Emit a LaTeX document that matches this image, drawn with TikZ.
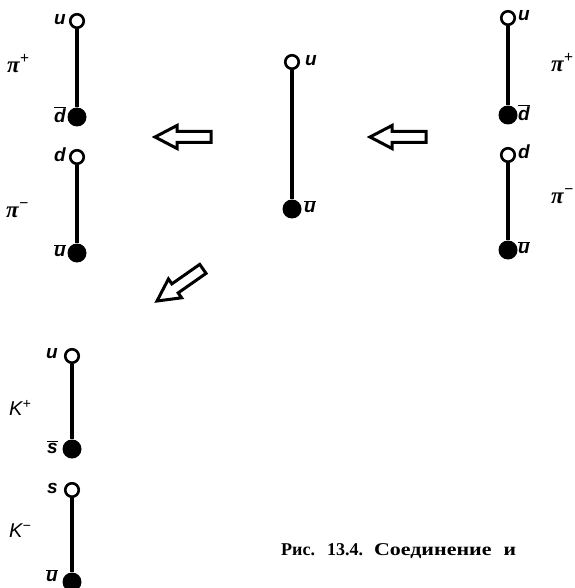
\documentclass[tikz,border=0pt]{standalone}
\usepackage{fontspec}
\setmainfont{Liberation Serif}
\newfontfamily\lab{Liberation Sans}
\newfontfamily\grk{Liberation Serif}
\begin{document}
\begin{tikzpicture}[x=1pt,y=-1pt,
  opq/.style={circle,draw,line width=2.6pt,fill=white,minimum size=13.5pt,inner sep=0pt},
  fq/.style={circle,fill=black,minimum size=19pt,inner sep=0pt},
  bond/.style={line width=3.2pt},
  lbl/.style={font=\fontsize{19}{22}\selectfont\lab\bfseries\itshape,inner sep=1pt},
  plbl/.style={font=\fontsize{23}{26}\selectfont\grk\bfseries\itshape,inner sep=0pt},
  klbl/.style={font=\fontsize{20}{24}\selectfont\lab\itshape,inner sep=0pt},
  harrow/.style={line width=3pt,fill=white,line join=miter},
  hollowarrow/.pic={\draw[harrow] (0,0) -- (22,11.5) -- (22,5.5) -- (56,5.5) -- (56,-5.5) -- (22,-5.5) -- (22,-11.5) -- cycle;}]
\useasboundingbox (0,0) rectangle (574,588);

% left column: pi+ and pi-
\node[opq] (lu) at (77,21) {};
\node[fq] (ldb) at (77,117) {};
\node[opq] (ld) at (77,157) {};
\node[fq] (lub) at (77,253) {};
\draw[bond] (lu) -- (ldb);
\draw[bond] (ld) -- (lub);
\node[lbl,anchor=east] (tlu) at (67,20) {u};
\node[lbl,anchor=east] (tldb) at (67,115) {$\overline{\mbox{\lab\bfseries\itshape d}}$};
\node[lbl,anchor=east] (tld) at (67,155) {d};
\node[lbl,anchor=east] (tlub) at (67,251) {$\overline{\mbox{\lab\bfseries\itshape u}}$};
\node[plbl,anchor=west] (plp) at (7,64) {π\textsuperscript{+}};
\node[plbl,anchor=west] (plm) at (6,210) {π\textsuperscript{−}};

% middle
\node[opq] (mu) at (292,62) {};
\node[fq] (mub) at (292,209) {};
\draw[bond] (mu) -- (mub);
\node[lbl,anchor=west] (tmu) at (304,61) {u};
\node[lbl,anchor=west] (tmub) at (303,207) {$\overline{\mbox{\lab\bfseries\itshape u}}$};

% right column
\node[opq] (ru) at (508,18) {};
\node[fq] (rdb) at (508,115) {};
\node[opq] (rd) at (508,155) {};
\node[fq] (rub) at (508,250) {};
\draw[bond] (ru) -- (rdb);
\draw[bond] (rd) -- (rub);
\node[lbl,anchor=west] (tru) at (517,16) {u};
\node[lbl,anchor=west] (trdb) at (517,113) {$\overline{\mbox{\lab\bfseries\itshape d}}$};
\node[lbl,anchor=west] (trd) at (517,152) {d};
\node[lbl,anchor=west] (trub) at (517,248) {$\overline{\mbox{\lab\bfseries\itshape u}}$};
\node[plbl,anchor=west] (prp) at (551,63) {π\textsuperscript{+}};
\node[plbl,anchor=west] (prm) at (551,196) {π\textsuperscript{−}};

% K column
\node[opq] (ku) at (72,356) {};
\node[fq] (ksb) at (72,449) {};
\node[opq] (ks) at (72,490) {};
\node[fq] (kub) at (72,582) {};
\draw[bond] (ku) -- (ksb);
\draw[bond] (ks) -- (kub);
\node[lbl,anchor=east] (tku) at (59,354) {u};
\node[lbl,anchor=east] (tksb) at (59,447) {$\overline{\mbox{\lab\bfseries\itshape s}}$};
\node[lbl,anchor=east] (tks) at (59,488) {s};
\node[lbl,anchor=east] (tkub) at (59,576) {$\overline{\mbox{\lab\bfseries\itshape u}}$};
\node[klbl,anchor=west] (kp) at (9,408) {K\textsuperscript{+}};
\node[klbl,anchor=west] (km) at (9,531) {K\textsuperscript{−}};

% hollow arrows
\pic at (155,137) {hollowarrow};
\pic at (370,137) {hollowarrow};
\pic[rotate=35] at (157,301) {hollowarrow};

% caption
\node[anchor=base west,inner sep=0pt,font=\fontsize{18}{20}\selectfont\bfseries] (cap) at (281,555) {Рис.\hspace{12pt}13.4.\hspace{11pt}\scalebox{1.22}[1]{Соединение}\hspace{12pt}\scalebox{1.2}[1]{и}};
\end{tikzpicture}
\end{document}
